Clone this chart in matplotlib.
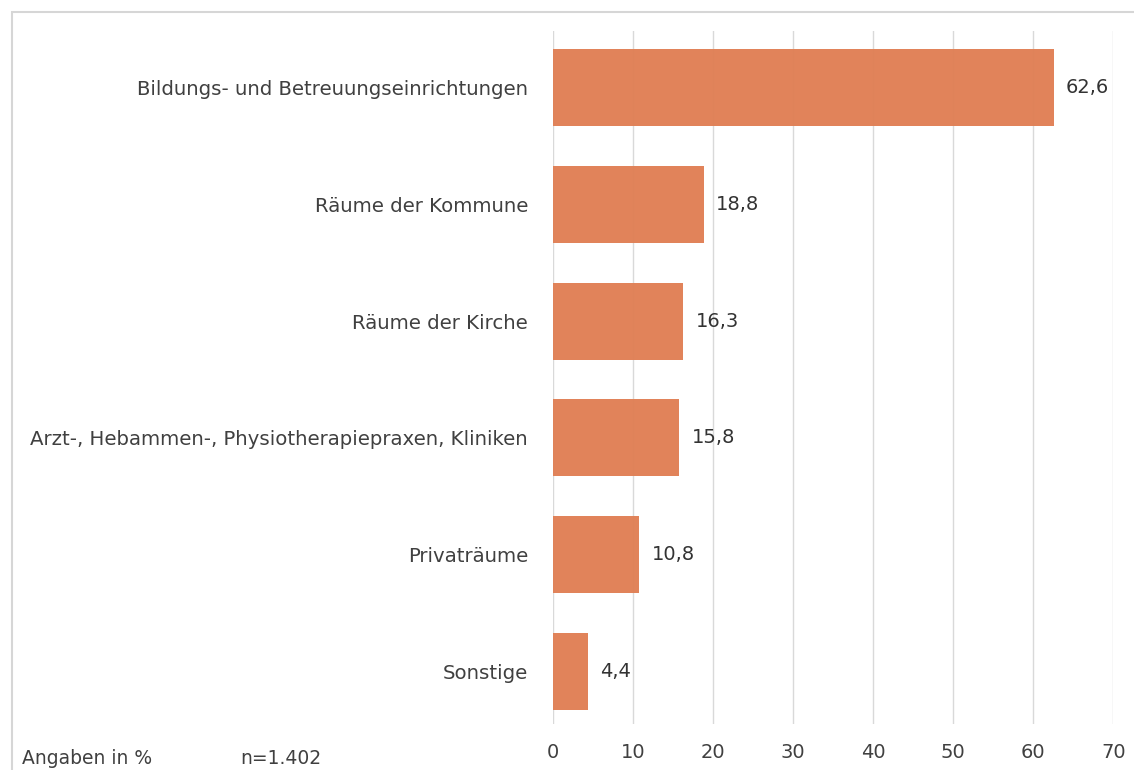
import matplotlib

matplotlib.use("Agg")
import matplotlib.pyplot as plt
from matplotlib.patches import Rectangle

plt.rcParams["font.family"] = ["DejaVu Sans"]

CATEGORIES = [
    "Bildungs- und Betreuungseinrichtungen",
    "Räume der Kommune",
    "Räume der Kirche",
    "Arzt-, Hebammen-, Physiotherapiepraxen, Kliniken",
    "Privaträume",
    "Sonstige",
]
VALUES = [62.6, 18.8, 16.3, 15.8, 10.8, 4.4]
X_TICKS = [0, 10, 20, 30, 40, 50, 60, 70]

BAR = "#E07F55"
TEXT = "#404040"
GRID = "#d9d9d9"

fig = plt.figure(figsize=(11.34, 7.70), dpi=100, facecolor="white")
ax = fig.add_axes([0.4877, 0.06, 0.494, 0.9])

pos = list(range(len(CATEGORIES)))
ax.barh(pos, VALUES, height=0.66, color=BAR, zorder=2, alpha=0.97)
for y, v in zip(pos, VALUES):
    ax.text(v + 1.5, y, f"{v:.1f}".replace(".", ","), va="center", ha="left",
            fontsize=14, color="#333333")

ax.set_xlim(0, 70)
ax.set_ylim(5.45, -0.49)
ax.set_xticks(X_TICKS)
ax.set_xticklabels([str(t) for t in X_TICKS], fontsize=14, color=TEXT)
ax.tick_params(axis="x", pad=14)
ax.set_yticks(pos)
ax.set_yticklabels(CATEGORIES, fontsize=14.2, color=TEXT)
ax.tick_params(axis="both", length=0)
ax.tick_params(axis="y", pad=18)
ax.grid(axis="x", color=GRID, linewidth=1.0, zorder=1)
ax.set_axisbelow(True)
for s in ax.spines.values():
    s.set_visible(False)

# light frame along the top and left edge
fig.add_artist(Rectangle((12 / 1134, -0.1), 1.2, 1 - 12 / 770 + 0.1,
                         transform=fig.transFigure, fill=False,
                         edgecolor="#d6d6d6", linewidth=1.5))

fig.text(22 / 1134, 1 - 758 / 770, "Angaben in %", fontsize=13.5, color=TEXT,
         va="center")
fig.text(240 / 1134, 1 - 758 / 770, "n=1.402", fontsize=13.5, color=TEXT,
         va="center")

fig.savefig("out.png", dpi=100, facecolor="white")
